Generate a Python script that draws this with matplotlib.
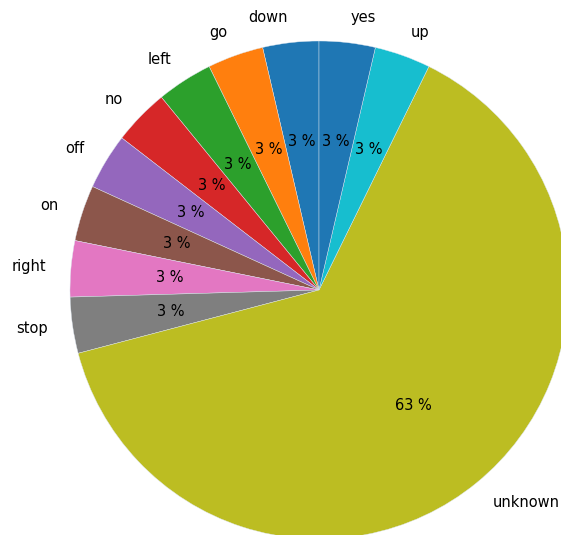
import matplotlib
matplotlib.use("Agg")
import matplotlib.pyplot as plt

labels = ["down", "go", "left", "no", "off", "on", "right", "stop", "unknown", "up", "yes"]
counts = [2, 2, 2, 2, 2, 2, 2, 2, 35, 2, 2]

fig = plt.figure(figsize=(5.61, 5.35), dpi=100)
ax = fig.add_axes([0, 0, 1, 1])

# thin light edge gives the faint seam seen between the two blue wedges
ax.pie(counts, labels=labels, autopct="%d %%", startangle=90,
       textprops={"fontsize": 10.5},
       wedgeprops={"linewidth": 0.3, "edgecolor": "#dde6f0"})

# pie centre at (319, 290) px from top-left, radius 249 px; the pie is cut at right/bottom
r = 249.0
cx, cy = 319.0, 290.0
ax.set_aspect("auto")
ax.set_xlim(-cx / r, (561 - cx) / r)
ax.set_ylim(-(535 - cy) / r, cy / r)
ax.axis("off")

fig.savefig("out.png", dpi=100)
